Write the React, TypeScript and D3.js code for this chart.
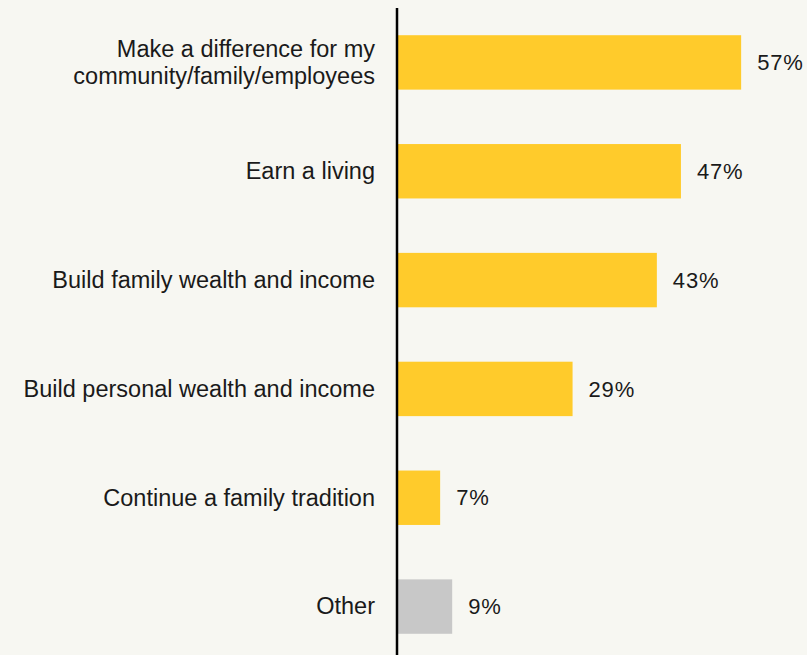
import React from "react";
import * as d3 from "d3";

const categories: string[][] = [
  ["Make a difference for my", "community/family/employees"],
  ["Earn a living"],
  ["Build family wealth and income"],
  ["Build personal wealth and income"],
  ["Continue a family tradition"],
  ["Other"],
];
const values: number[] = [57, 47, 43, 29, 7, 9];
const barColors: string[] = ["#FFCB2B", "#FFCB2B", "#FFCB2B", "#FFCB2B", "#FFCB2B", "#C8C8C8"];

const W = 807;
const H = 655;

export default function App() {
  const keys = categories.map((c) => c.join(" "));
  const y = d3.scaleBand<string>().domain(keys).range([8, 661]).paddingInner(0.5).paddingOuter(0.25);
  const x = d3.scaleLinear().domain([0, 100]).range([398, 1000]);
  const fontFamily = "'Liberation Sans', Arial, sans-serif";
  const fs = 23.5;
  const vfs = 22;
  const lh = 27;
  return (
    <svg
      width={W}
      height={H}
      style={{ position: "absolute", left: 0, top: 0, display: "block", background: "#F7F7F2" }}
    >
      <rect x={0} y={0} width={W} height={H} fill="#F7F7F2" />
      {keys.map((k, i) => {
        const y0 = y(k)!;
        const bw = y.bandwidth();
        const cy = y0 + bw / 2;
        const lines = categories[i];
        return (
          <g key={k}>
            <rect x={x(0)} y={y0} width={x(values[i]) - x(0)} height={bw} fill={barColors[i]} />
            <text
              x={x(values[i]) + 16}
              y={cy}
              dy="0.35em"
              fontSize={vfs}
              letterSpacing={0.8}
              fontFamily={fontFamily}
              fill="#1a1a1a"
            >
              {values[i]}%
            </text>
            <text
              x={375}
              y={cy - ((lines.length - 1) * lh) / 2}
              textAnchor="end"
              fontSize={fs}
              fontFamily={fontFamily}
              fill="#1a1a1a"
            >
              {lines.map((l, j) => (
                <tspan key={j} x={375} dy={j === 0 ? "0.33em" : lh}>
                  {l}
                </tspan>
              ))}
            </text>
          </g>
        );
      })}
      <line x1={x(0) - 1} x2={x(0) - 1} y1={8} y2={H} stroke="#000" strokeWidth={2.5} />
    </svg>
  );
}
